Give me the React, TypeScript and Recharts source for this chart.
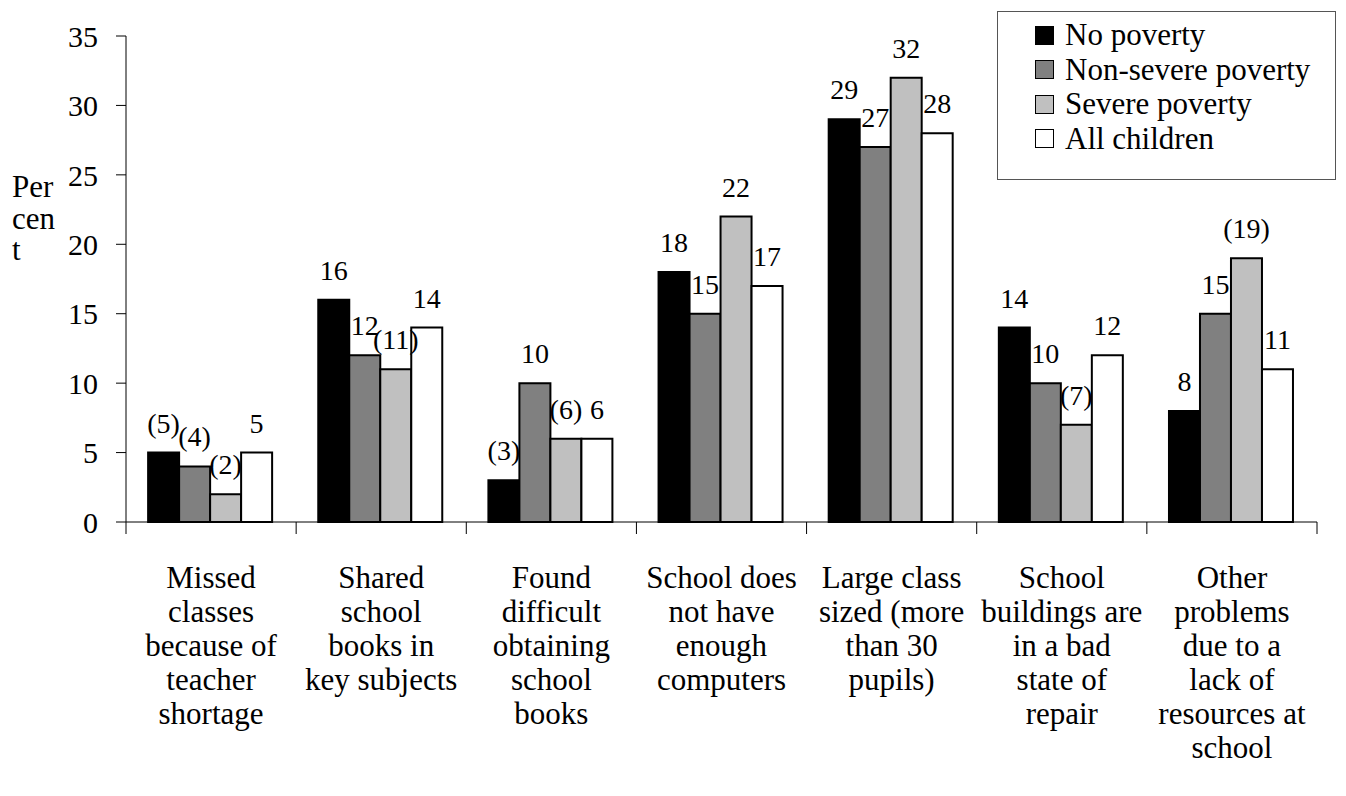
import { BarChart, Bar, XAxis, YAxis, Legend, LabelList } from 'recharts';

const categoryLines = [
  ['Missed', 'classes', 'because of', 'teacher', 'shortage'],
  ['Shared', 'school', 'books in', 'key subjects'],
  ['Found', 'difficult', 'obtaining', 'school', 'books'],
  ['School does', 'not have', 'enough', 'computers'],
  ['Large class', 'sized (more', 'than 30', 'pupils)'],
  ['School', 'buildings are', 'in a bad', 'state of', 'repair'],
  ['Other', 'problems', 'due to a', 'lack of', 'resources at', 'school'],
];

const seriesNames = ['No poverty', 'Non-severe poverty', 'Severe poverty', 'All children'];

const noPoverty = [5, 16, 3, 18, 29, 14, 8];
const nonSevere = [4, 12, 10, 15, 27, 10, 15];
const severe = [2, 11, 6, 22, 32, 7, 19];
const allChildren = [5, 14, 6, 17, 28, 12, 11];

// figures in brackets are shown as printed in the source
const noPovertyLabels = ['(5)', '16', '(3)', '18', '29', '14', '8'];
const nonSevereLabels = ['(4)', '12', '10', '15', '27', '10', '15'];
const severeLabels = ['(2)', '(11)', '(6)', '22', '32', '(7)', '(19)'];
const allChildrenLabels = ['5', '14', '6', '17', '28', '12', '11'];

const yTicks = [0, 5, 10, 15, 20, 25, 30, 35];

const data = categoryLines.map((lines, i) => ({
  name: lines.join(' '),
  noPoverty: noPoverty[i],
  nonSevere: nonSevere[i],
  severe: severe[i],
  allChildren: allChildren[i],
  noPovertyLabel: noPovertyLabels[i],
  nonSevereLabel: nonSevereLabels[i],
  severeLabel: severeLabels[i],
  allChildrenLabel: allChildrenLabels[i],
}));

const W = 1346;
const H = 796;
const margin = { top: 36, right: 29, left: 0, bottom: 10 };
const yAxisWidth = 126;
const band = (W - margin.left - margin.right - yAxisWidth) / categoryLines.length;
const FONT = '"Liberation Serif", serif';

const CategoryTick = (props: any) => {
  const { x, y, index } = props;
  const lines = categoryLines[index] || [];
  const last = index === categoryLines.length - 1;
  return (
    <g>
      <line x1={x - band / 2} y1={y} x2={x - band / 2} y2={y + 12} stroke="#000" />
      {last && <line x1={x + band / 2} y1={y} x2={x + band / 2} y2={y + 12} stroke="#000" />}
      {lines.map((t, i) => (
        <text key={i} x={x} y={y + 66 + i * 34} textAnchor="middle" fill="#000" style={{ fontSize: 31, fontFamily: FONT }}>
          {t}
        </text>
      ))}
    </g>
  );
};

const YLabel = (props: any) => {
  const { viewBox } = props;
  const x = (viewBox?.x ?? 0) + 12;
  return (
    <text fill="#000" style={{ fontSize: 31, fontFamily: FONT }}>
      {['Per', 'cen', 't'].map((t, i) => (
        <tspan key={i} x={x} y={197 + i * 31.5}>
          {t}
        </tspan>
      ))}
    </text>
  );
};

const LegendBox = (props: any) => {
  const items = [...(props.payload || [])].sort(
    (a: any, b: any) => seriesNames.indexOf(a.value) - seriesNames.indexOf(b.value),
  );
  return (
    <div
      style={{
        border: '1px solid #555',
        background: '#fff',
        width: 339,
        height: 169,
        boxSizing: 'border-box',
        paddingTop: 6,
        paddingLeft: 37,
        fontFamily: FONT,
        fontSize: 31,
        color: '#000',
      }}
    >
      {items.map((it: any) => (
        <div key={it.value} style={{ display: 'flex', alignItems: 'center', height: 34.5 }}>
          <span
            style={{
              display: 'inline-block',
              width: 19,
              height: 19,
              background: it.color,
              border: '1.5px solid #000',
              boxSizing: 'border-box',
              marginRight: 11,
            }}
          />
          <span style={{ lineHeight: '34px' }}>{it.value}</span>
        </div>
      ))}
    </div>
  );
};

const labelStyle = { fontSize: 28, fill: '#000', fontFamily: FONT };

export default function App() {
  return (
    <div style={{ position: 'absolute', left: 0, top: 0, background: '#fff', fontFamily: FONT }}>
      <BarChart width={W} height={H} data={data} margin={margin} barGap={0} barCategoryGap="13%">
        <XAxis
          dataKey="name"
          axisLine={{ stroke: '#000' }}
          tickLine={false}
          tickSize={0}
          tickMargin={0}
          height={264}
          interval={0}
          tick={<CategoryTick />}
        />
        <YAxis
          width={yAxisWidth}
          domain={[0, 35]}
          ticks={yTicks}
          interval={0}
          axisLine={{ stroke: '#000' }}
          tickLine={{ stroke: '#000' }}
          tickSize={10}
          tickMargin={18}
          tick={{ fontSize: 30, fill: '#000', fontFamily: FONT }}
          label={<YLabel />}
        />
        <Legend
          layout="vertical"
          align="center"
          verticalAlign="middle"
          content={<LegendBox />}
          wrapperStyle={{ position: 'absolute', left: 997, top: 11, width: 339, height: 169 }}
        />
        <Bar dataKey="noPoverty" name={seriesNames[0]} fill="#000000" stroke="#000" strokeWidth={2} isAnimationActive={false}>
          <LabelList dataKey="noPovertyLabel" position="top" offset={20} style={labelStyle} />
        </Bar>
        <Bar dataKey="nonSevere" name={seriesNames[1]} fill="#808080" stroke="#000" strokeWidth={2} isAnimationActive={false}>
          <LabelList dataKey="nonSevereLabel" position="top" offset={20} style={labelStyle} />
        </Bar>
        <Bar dataKey="severe" name={seriesNames[2]} fill="#c0c0c0" stroke="#000" strokeWidth={2} isAnimationActive={false}>
          <LabelList dataKey="severeLabel" position="top" offset={20} style={labelStyle} />
        </Bar>
        <Bar dataKey="allChildren" name={seriesNames[3]} fill="#ffffff" stroke="#000" strokeWidth={2} isAnimationActive={false}>
          <LabelList dataKey="allChildrenLabel" position="top" offset={20} style={labelStyle} />
        </Bar>
      </BarChart>
    </div>
  );
}
